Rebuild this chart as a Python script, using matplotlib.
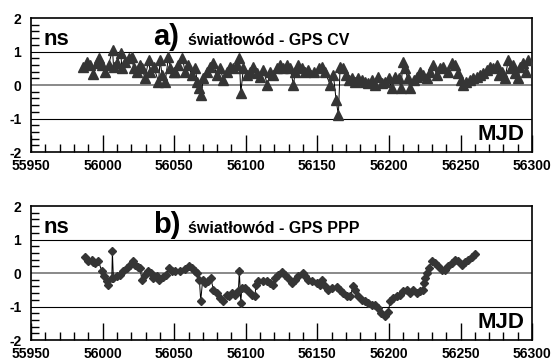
import matplotlib
matplotlib.use("Agg")
import matplotlib.pyplot as plt
from matplotlib.ticker import MultipleLocator

plt.rcParams['font.family'] = ['Liberation Sans', 'DejaVu Sans']
plt.rcParams['font.weight'] = 'bold'
plt.rcParams['axes.unicode_minus'] = False

# panel a) fibre link - GPS CV (MJD, ns)
cv_mjd = [55986.6, 55988.9, 55991.3, 55993.6, 55995.9, 55997.6, 55999.4, 56001.8, 56004.1, 56006.9,
          56007.6, 56009.9, 56012.7, 56013.4, 56015.7, 56018.1, 56020.4, 56021.6, 56023.9, 56025.8,
          56027.4, 56029.7, 56032.1, 56033.2, 56035.6, 56039.0, 56040.2, 56041.4, 56043.7, 56046.0,
          56047.2, 56049.5, 56050.6, 56052.9, 56055.7, 56057.6, 56059.9, 56062.2, 56064.6, 56066.2,
          56067.6, 56068.8, 56070.4, 56072.7, 56075.1, 56077.4, 56079.7, 56082.0, 56084.4, 56086.7,
          56089.0, 56091.4, 56093.7, 56095.5, 56096.5, 56098.3, 56100.7, 56103.0, 56105.3, 56107.7,
          56110.0, 56112.3, 56115.1, 56117.0, 56119.3, 56121.6, 56124.0, 56126.3, 56128.6, 56131.0,
          56133.3, 56134.5, 56136.8, 56139.1, 56141.4, 56143.8, 56147.3, 56150.8, 56153.1, 56155.4,
          56158.9, 56161.2, 56163.1, 56164.7, 56165.9, 56167.8, 56170.1, 56172.4, 56174.0, 56176.4,
          56178.7, 56181.1, 56183.4, 56185.7, 56188.0, 56190.4, 56192.7, 56195.0, 56197.4, 56199.7,
          56202.0, 56204.3, 56206.7, 56208.5, 56209.7, 56211.3, 56213.0, 56214.8, 56217.2, 56219.5,
          56221.8, 56224.1, 56226.5, 56228.8, 56231.1, 56233.5, 56235.8, 56238.1, 56241.5, 56243.9,
          56246.2, 56248.5, 56250.1, 56251.5, 56253.9, 56256.7, 56259.0, 56261.3, 56263.6, 56266.0,
          56268.3, 56270.6, 56273.0, 56275.3, 56277.2, 56278.8, 56281.1, 56283.4, 56285.1, 56286.5,
          56288.1, 56290.4, 56291.6, 56293.9, 56295.8, 56297.4]
cv_ns = [0.55, 0.70, 0.60, 0.32, 0.65, 0.80, 0.60, 0.40, 0.60, 1.05,
         0.55, 0.65, 0.95, 0.50, 0.70, 0.80, 0.85, 0.50, 0.40, 0.60,
         0.50, 0.20, 0.75, 0.40, 0.55, 0.10, 0.75, 0.30, 0.10, 0.85,
         0.50, 0.40, 0.40, 0.60, 0.80, 0.40, 0.60, 0.30, 0.50, 0.10,
         -0.10, -0.30, 0.20, 0.40, 0.55, 0.65, 0.30, 0.50, 0.15, 0.40,
         0.55, 0.50, 0.60, 0.80, -0.25, 0.50, 0.30, 0.40, 0.55, 0.35,
         0.25, 0.45, 0.00, 0.40, 0.30, 0.50, 0.60, 0.50, 0.60, 0.50,
         0.00, 0.40, 0.60, 0.50, 0.40, 0.45, 0.40, 0.50, 0.55, 0.40,
         0.00, 0.30, -0.45, -0.90, 0.55, 0.50, 0.30, 0.15, 0.20, 0.10,
         0.20, 0.15, 0.10, 0.05, 0.15, 0.00, 0.25, 0.05, 0.10, 0.20,
         -0.10, 0.25, 0.20, -0.10, 0.70, 0.50, 0.20, -0.10, 0.15, 0.25,
         0.40, 0.30, 0.20, 0.40, 0.60, 0.30, 0.50, 0.55, 0.40, 0.65,
         0.60, 0.35, 0.15, 0.00, 0.10, 0.15, 0.20, 0.25, 0.30, 0.35,
         0.45, 0.55, 0.50, 0.60, 0.30, 0.40, 0.20, 0.75, 0.50, 0.60,
         0.35, 0.20, 0.55, 0.65, 0.40, 0.75]

# panel b) fibre link - GPS PPP (MJD, ns)
ppp_mjd = [55987.7, 55990.0, 55992.4, 55993.5, 55995.0, 55997.0, 55999.4, 56001.0, 56002.9, 56003.7,
           56006.4, 56006.8, 56007.5, 56010.0, 56012.3, 56014.5, 56016.8, 56019.2, 56021.0, 56022.7,
           56024.4, 56026.2, 56027.3, 56029.6, 56032.0, 56033.6, 56035.4, 56037.7, 56039.6, 56041.9,
           56044.3, 56046.6, 56048.2, 56050.5, 56054.0, 56057.6, 56060.6, 56062.2, 56064.6, 56066.2,
           56067.6, 56068.5, 56069.9, 56071.6, 56073.9, 56075.5, 56077.4, 56079.7, 56082.0, 56084.3,
           56086.7, 56088.5, 56090.2, 56092.5, 56094.8, 56095.5, 56096.5, 56097.2, 56099.5, 56101.8,
           56104.2, 56106.5, 56107.0, 56108.8, 56112.3, 56114.6, 56117.0, 56119.3, 56120.5, 56122.8,
           56125.1, 56127.5, 56129.8, 56132.1, 56134.4, 56136.8, 56140.2, 56141.4, 56143.7, 56146.0,
           56149.6, 56151.9, 56153.1, 56155.4, 56157.7, 56160.0, 56163.6, 56165.9, 56168.2, 56170.5,
           56172.9, 56175.1, 56176.3, 56178.6, 56180.9, 56183.3, 56185.6, 56188.0, 56190.3, 56192.3,
           56194.6, 56197.3, 56199.6, 56200.8, 56203.1, 56205.5, 56207.8, 56210.0, 56212.5, 56214.8,
           56217.1, 56219.4, 56221.8, 56224.1, 56224.6, 56225.3, 56226.5, 56228.3, 56230.0, 56232.2,
           56234.5, 56236.9, 56239.2, 56241.5, 56243.9, 56246.2, 56248.5, 56250.9, 56253.2, 56255.5,
           56257.8, 56260.2]
ppp_ns = [0.48, 0.37, 0.40, 0.32, 0.30, 0.37, 0.05, -0.10, -0.25, -0.35,
          -0.15, 0.65, -0.15, -0.10, -0.05, 0.07, 0.15, 0.25, 0.35, 0.25,
          0.17, 0.15, -0.20, -0.05, 0.07, 0.00, -0.15, -0.10, -0.22, -0.12,
          -0.05, 0.15, 0.05, 0.05, 0.07, 0.13, 0.22, 0.15, 0.05, 0.00,
          -0.20, -0.83, -0.20, -0.30, -0.25, -0.15, -0.50, -0.60, -0.75, -0.85,
          -0.65, -0.70, -0.60, -0.65, -0.55, 0.05, -0.90, -0.45, -0.45, -0.55,
          -0.65, -0.70, -0.35, -0.25, -0.23, -0.23, -0.30, -0.35, -0.15, -0.05,
          0.02, -0.05, -0.15, -0.30, -0.20, -0.10, 0.00, -0.10, -0.20, -0.25,
          -0.30, -0.35, -0.20, -0.40, -0.50, -0.45, -0.43, -0.50, -0.60, -0.70,
          -0.70, -0.40, -0.50, -0.70, -0.80, -0.85, -0.90, -0.95, -0.95, -1.05,
          -1.20, -1.27, -1.15, -0.85, -0.75, -0.70, -0.65, -0.55, -0.50, -0.60,
          -0.50, -0.60, -0.55, -0.50, -0.30, -0.15, 0.00, 0.15, 0.35, 0.30,
          0.20, 0.10, 0.10, 0.20, 0.30, 0.40, 0.35, 0.25, 0.33, 0.40,
          0.47, 0.57]

panels = [
    ("a)", "światłowód - GPS CV", cv_mjd, cv_ns, "^", 6.5),
    ("b)", "światłowód - GPS PPP", ppp_mjd, ppp_ns, "D", 4.4),
]

fig = plt.figure(figsize=(5.55, 3.64), dpi=100)
boxes = [[0.056, 0.5824, 0.9027, 0.3681], [0.056, 0.0659, 0.9027, 0.3681]]

for (tag, title, mjd, ns, marker, ms), box in zip(panels, boxes):
    ax = fig.add_axes(box)
    ax.set_xlim(55950, 56300)
    ax.set_ylim(-2, 2)

    ax.axhline(1, color='black', lw=0.8, zorder=1)
    ax.axhline(-1, color='black', lw=0.8, zorder=1)
    ax.axhline(0, color='#808080', lw=1.3, zorder=1)

    ax.plot(mjd, ns, color='black', lw=0.7, marker=marker, ms=ms,
            mfc='#353535', mec='#353535', zorder=3)

    ax.xaxis.set_major_locator(MultipleLocator(50))
    ax.xaxis.set_minor_locator(MultipleLocator(10))
    ax.yaxis.set_major_locator(MultipleLocator(1))
    ax.yaxis.set_minor_locator(MultipleLocator(0.2))
    ax.tick_params(axis='x', which='major', direction='in', length=12, width=1.0,
                   pad=5, labelsize=10)
    ax.tick_params(axis='x', which='minor', direction='in', length=6, width=1.0)
    ax.tick_params(axis='y', which='major', direction='in', length=0, pad=7, labelsize=10)
    ax.tick_params(axis='y', which='minor', direction='in', length=6, width=1.0)
    plt.setp(ax.get_xticklabels() + ax.get_yticklabels(), fontweight='heavy')
    for sp in ax.spines.values():
        sp.set_linewidth(1.2)

    ax.text(0.024, 0.80, "ns", transform=ax.transAxes, fontsize=16,
            fontweight='bold', va='baseline', ha='left')
    ax.text(0.244, 0.80, tag, transform=ax.transAxes, fontsize=21,
            fontweight='bold', va='baseline', ha='left')
    ax.text(0.313, 0.80, title, transform=ax.transAxes, fontsize=11.5,
            fontweight='bold', va='baseline', ha='left')
    ax.text(0.985, 0.09, "MJD", transform=ax.transAxes, fontsize=16,
            fontweight='bold', va='baseline', ha='right')

fig.savefig("out.png", dpi=100)
